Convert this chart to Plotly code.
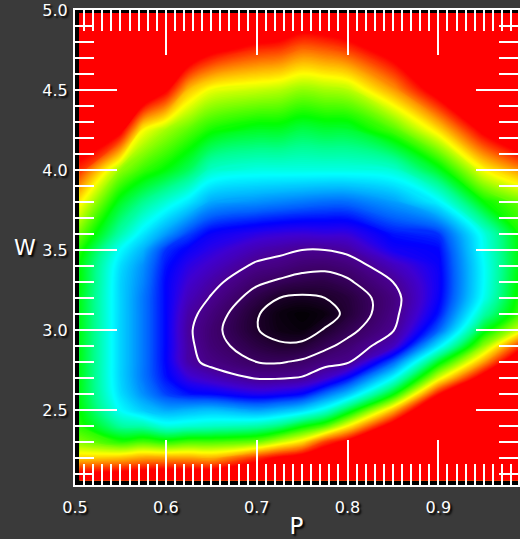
import plotly.graph_objects as go

# ---- data ----
P = [0.505, 0.55, 0.575, 0.60, 0.625, 0.65, 0.70, 0.725, 0.75, 0.775, 0.80, 0.85, 0.90, 0.95, 0.99]
W = [2.06, 2.1, 2.2, 2.3, 2.4, 2.5, 2.6, 2.7, 2.8, 2.9, 3.0, 3.1, 3.2, 3.3,
     3.4, 3.5, 3.6, 3.8, 4.0, 4.25, 4.5, 4.75, 4.98]
# rows follow W, columns follow P (normalised level, 0 = best fit, >=0.96 saturated red)
Z = [
    [1.08, 1.08, 1.09, 1.10, 1.10, 1.12, 1.15, 1.20, 1.25, 1.30, 1.35, 1.50, 1.60, 1.70, 1.80],
    [0.97, 0.98, 0.99, 1.00, 1.00, 1.00, 1.05, 1.10, 1.15, 1.20, 1.25, 1.40, 1.50, 1.60, 1.70],
    [0.83, 0.84, 0.86, 0.86, 0.86, 0.85, 0.93, 0.97, 1.00, 1.05, 1.12, 1.25, 1.40, 1.50, 1.60],
    [0.73, 0.68, 0.70, 0.68, 0.70, 0.70, 0.72, 0.77, 0.82, 0.92, 0.98, 1.12, 1.30, 1.40, 1.50],
    [0.68, 0.57, 0.56, 0.52, 0.53, 0.54, 0.56, 0.59, 0.65, 0.70, 0.80, 1.00, 1.20, 1.30, 1.40],
    [0.66, 0.50, 0.45, 0.42, 0.43, 0.44, 0.41, 0.43, 0.46, 0.52, 0.62, 0.84, 1.10, 1.20, 1.30],
    [0.65, 0.47, 0.40, 0.34, 0.31, 0.30, 0.27, 0.28, 0.30, 0.37, 0.44, 0.65, 0.95, 1.10, 1.20],
    [0.65, 0.46, 0.38, 0.31, 0.25, 0.22, 0.175, 0.175, 0.185, 0.23, 0.30, 0.50, 0.78, 1.00, 1.12],
    [0.65, 0.46, 0.38, 0.30, 0.20, 0.16, 0.115, 0.11, 0.125, 0.155, 0.17, 0.36, 0.64, 0.86, 1.05],
    [0.65, 0.46, 0.38, 0.30, 0.195, 0.14, 0.08, 0.06, 0.065, 0.10, 0.135, 0.22, 0.48, 0.74, 0.93],
    [0.65, 0.46, 0.38, 0.30, 0.19, 0.135, 0.053, 0.025, 0.015, 0.055, 0.095, 0.175, 0.36, 0.64, 0.78],
    [0.65, 0.46, 0.38, 0.30, 0.20, 0.15, 0.055, 0.02, 0.005, 0.02, 0.065, 0.16, 0.31, 0.56, 0.70],
    [0.65, 0.46, 0.38, 0.30, 0.22, 0.175, 0.085, 0.05, 0.04, 0.05, 0.07, 0.155, 0.29, 0.51, 0.68],
    [0.66, 0.46, 0.39, 0.30, 0.24, 0.20, 0.126, 0.105, 0.09, 0.085, 0.105, 0.18, 0.285, 0.50, 0.67],
    [0.66, 0.47, 0.40, 0.31, 0.26, 0.23, 0.168, 0.155, 0.135, 0.13, 0.145, 0.22, 0.29, 0.50, 0.66],
    [0.68, 0.50, 0.43, 0.33, 0.29, 0.26, 0.21, 0.195, 0.18, 0.18, 0.195, 0.28, 0.30, 0.51, 0.66],
    [0.72, 0.56, 0.48, 0.41, 0.34, 0.29, 0.26, 0.25, 0.245, 0.25, 0.25, 0.31, 0.33, 0.52, 0.67],
    [0.81, 0.64, 0.58, 0.53, 0.48, 0.42, 0.40, 0.39, 0.38, 0.37, 0.37, 0.41, 0.49, 0.66, 0.72],
    [0.93, 0.74, 0.69, 0.655, 0.61, 0.54, 0.52, 0.52, 0.52, 0.52, 0.52, 0.53, 0.64, 0.80, 0.87],
    [1.05, 0.98, 0.80, 0.75, 0.71, 0.67, 0.64, 0.64, 0.62, 0.63, 0.63, 0.70, 0.82, 0.98, 1.08],
    [1.20, 1.12, 1.06, 0.97, 0.84, 0.79, 0.77, 0.76, 0.74, 0.75, 0.76, 0.86, 1.00, 1.12, 1.20],
    [1.35, 1.25, 1.20, 1.15, 1.04, 0.98, 0.93, 0.92, 0.89, 0.90, 0.92, 1.00, 1.15, 1.25, 1.35],
    [1.50, 1.40, 1.35, 1.30, 1.20, 1.15, 1.10, 1.08, 1.04, 1.05, 1.07, 1.15, 1.30, 1.40, 1.50],
]
contour_levels = [0.05, 0.115, 0.18]
x_tick_vals = [0.5, 0.6, 0.7, 0.8, 0.9]
x_tick_text = ["0.5", "0.6", "0.7", "0.8", "0.9"]
y_tick_vals = [2.5, 3.0, 3.5, 4.0, 4.5, 5.0]
y_tick_text = ["2.5", "3.0", "3.5", "4.0", "4.5", "5.0"]
x_title = "P"
y_title = "W"

colorscale = [
    [0.00, "#000000"], [0.06, "#220033"], [0.12, "#3c0066"], [0.18, "#4a0092"],
    [0.24, "#4000d0"], [0.27, "#2000f0"], [0.30, "#0000ff"], [0.36, "#0060ff"],
    [0.43, "#00b4ff"], [0.50, "#00ffff"], [0.58, "#00ff90"], [0.66, "#00ff00"],
    [0.74, "#90ff00"], [0.80, "#ffff00"], [0.86, "#ffa000"], [0.92, "#ff3c00"],
    [0.96, "#ff0000"], [1.00, "#ff0000"],
]

FONT = "DejaVu Sans"
SHADOW = "2px 2px 2px #000000"

fig = go.Figure()
# colour field: finely stepped filled contours (interpolated by the library on the real grid)
fig.add_trace(go.Contour(
    x=P, y=W, z=Z, zmin=0, zmax=1, colorscale=colorscale, showscale=False,
    hoverinfo="skip", autocontour=False,
    contours=dict(coloring="fill", start=0.0, end=1.0, size=0.005, showlines=False),
    line=dict(width=0, smoothing=1.0),
))
# white confidence contours
fig.add_trace(go.Contour(
    x=P, y=W, z=Z, showscale=False, hoverinfo="skip", autocontour=False,
    contours=dict(coloring="none", start=contour_levels[0], end=contour_levels[-1],
                  size=contour_levels[1] - contour_levels[0]),
    line=dict(color="white", width=2, smoothing=1.0),
))

axis_common = dict(
    showgrid=False, zeroline=False, showline=True, linecolor="white", linewidth=2,
    mirror="allticks", ticks="inside", tickcolor="white", tickwidth=2,
    tickfont=dict(family=FONT, size=16, color="white", shadow=SHADOW),
)
fig.update_xaxes(
    range=[0.5, 0.9877], tickvals=x_tick_vals, ticktext=x_tick_text, ticklen=45,
    minor=dict(dtick=0.01, tick0=0.5, ticks="inside", ticklen=21, tickwidth=2, tickcolor="white"),
    title=dict(text=x_title, font=dict(family=FONT, size=23, color="white", shadow=SHADOW), standoff=2),
    ticklabelstandoff=7, **axis_common,
)
fig.update_yaxes(
    range=[2.031, 5.0], tickvals=y_tick_vals, ticktext=y_tick_text, ticklen=42,
    minor=dict(dtick=0.1, tick0=2.0, ticks="inside", ticklen=19, tickwidth=2, tickcolor="white"),
    ticklabelstandoff=2, **axis_common,
)
fig.add_annotation(
    text=y_title, xref="paper", yref="paper", x=-0.112, y=0.5, showarrow=False,
    xanchor="center", yanchor="middle",
    font=dict(family=FONT, size=22, color="white", shadow=SHADOW),
)
fig.update_layout(
    width=520, height=539, margin=dict(l=75, r=0, t=10, b=54),
    paper_bgcolor="#3a3a3a", plot_bgcolor="#000000", showlegend=False,
)
fig.write_html("out.html")
